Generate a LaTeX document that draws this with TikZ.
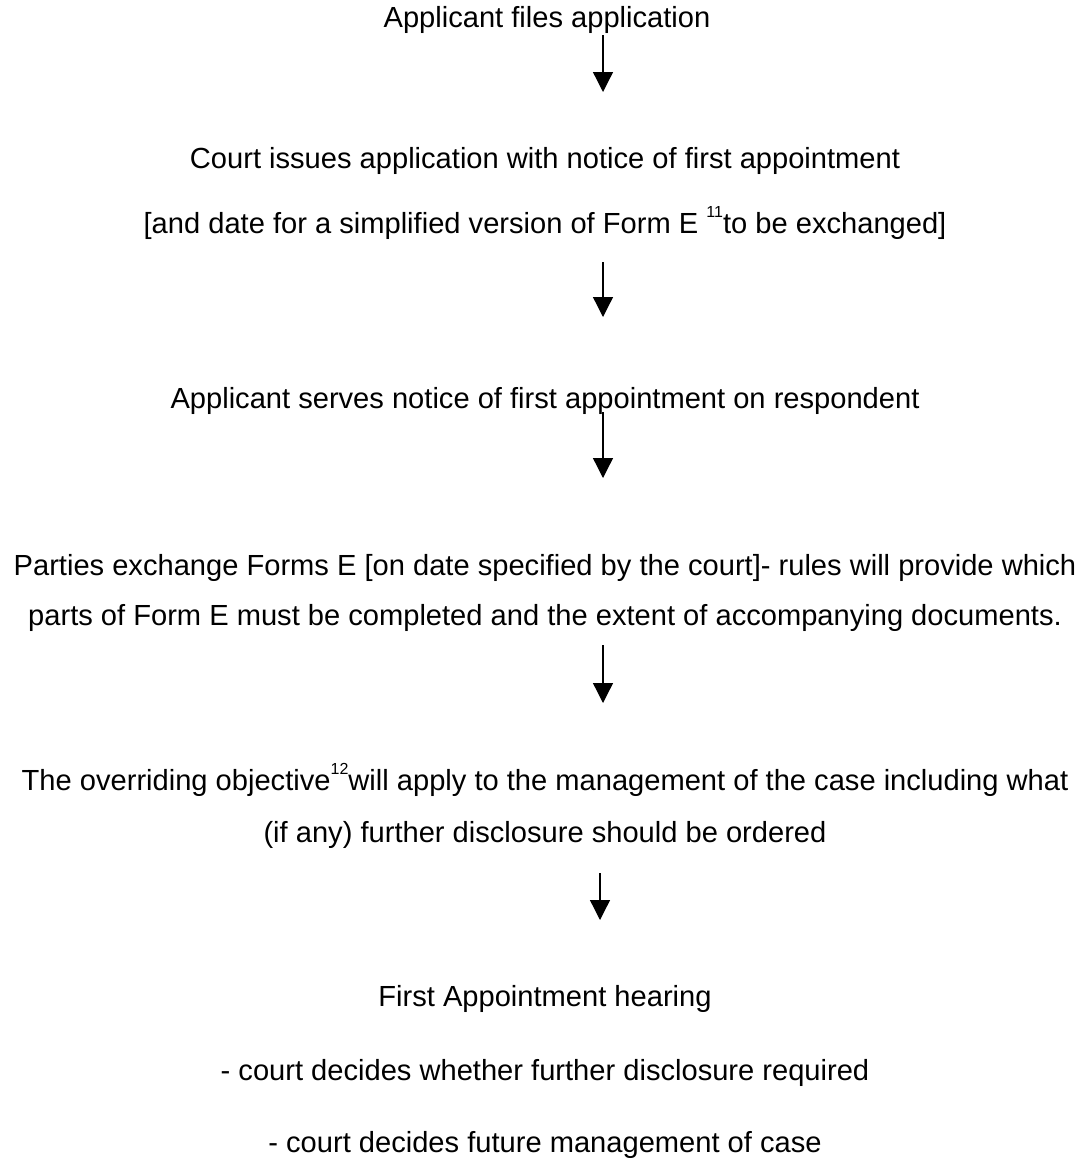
\documentclass[tikz,border=0pt]{standalone}
\usepackage{fontspec}
\setmainfont{Liberation Sans}
\usetikzlibrary{arrows.meta,calc}
\newcommand{\fnmark}[1]{\raisebox{16pt}{\fontsize{16}{16}\selectfont #1}}
\begin{document}
\begin{tikzpicture}[x=1pt,y=1pt,
  line/.style={anchor=base,inner sep=0pt,font=\fontsize{29.1}{35}\selectfont},
  arr/.style={line width=1.3pt,-{Triangle[length=20pt,width=20pt]}}]
\useasboundingbox (0,0) rectangle (1090,-1160);
\coordinate (ax) at (603,0);
\node[line] (t1) at (547,-27) {Applicant files application};
\node[line] (t2a) at (545,-168) {Court issues application with notice of first appointment};
\node[line] (t2b) at (545,-233) {[and date for a simplified version of Form E \fnmark{11}to be exchanged]};
\node[line] (t3) at (545,-408) {Applicant serves notice of first appointment on respondent};
\node[line] (t4a) at (545,-575) {Parties exchange Forms E [on date specified by the court]- rules will provide which};
\node[line] (t4b) at (545,-625) {parts of Form E must be completed and the extent of accompanying documents.};
\node[line] (t5a) at (545,-790) {The overriding objective\fnmark{12}will apply to the management of the case including what};
\node[line] (t5b) at (545,-842) {(if any) further disclosure should be ordered};
\node[line] (t6a) at (545,-1006) {First Appointment hearing};
\node[line] (t6b) at (545,-1080) {- court decides whether further disclosure required};
\node[line] (t6c) at (545,-1152) {- court decides future management of case};
\draw[arr] ([yshift=-8pt]t1.base -| ax) -- ([yshift=76pt]t2a.base -| ax);
\draw[arr] ([yshift=-29pt]t2b.base -| ax) -- ([yshift=91pt]t3.base -| ax);
\draw[arr] ([yshift=-4pt]t3.base -| ax) -- ([yshift=97pt]t4a.base -| ax);
\draw[arr] ([yshift=-20pt]t4b.base -| ax) -- ([yshift=87pt]t5a.base -| ax);
\draw[arr] ([yshift=-31pt,xshift=-3pt]t5b.base -| ax) -- ([yshift=86pt,xshift=-3pt]t6a.base -| ax);
\end{tikzpicture}
\end{document}
